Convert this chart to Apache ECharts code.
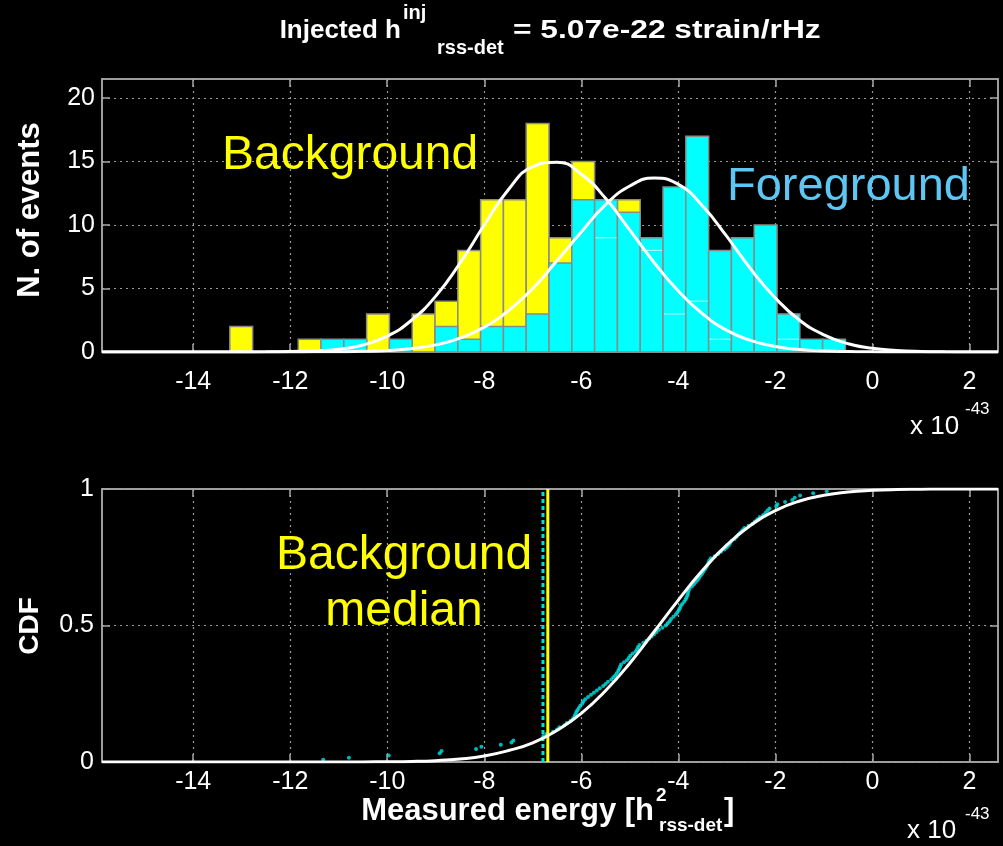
<!DOCTYPE html>
<html lang="en">
<head>
    <meta charset="UTF-8">
    <title>Measured energy histogram and CDF</title>
    <script src="https://cdn.jsdelivr.net/npm/echarts@6/dist/echarts.min.js"></script>
    <style>
        html, body { margin: 0; padding: 0; background: #000; }
        #chart { width: 1003px; height: 846px; }
    </style>
</head>
<body>
<div id="chart"></div>
<script type="text/javascript">
    // energies are in units of 1e-43 (h^2 rss-det)
    const binEdges = [-13.245, -12.775, -12.305, -11.835, -11.365, -10.895, -10.425, -9.955, -9.485,
        -9.015, -8.545, -8.075, -7.605, -7.135, -6.665, -6.195, -5.725, -5.255, -4.785, -4.315,
        -3.845, -3.375, -2.905, -2.435, -1.965, -1.495, -1.025, -0.555];
    const backgroundCounts = [2, 0, 0, 1, 0, 0, 3, 0, 3, 4, 8, 12, 12, 18, 9, 15, 9, 12, 8, 3, 4, 1, 0, 0, 1, 0, 0];
    const foregroundCounts = [0, 0, 0, 0, 1, 1, 0, 1, 0, 2, 1, 2, 2, 3, 7, 12, 12, 11, 9, 13, 17, 8, 9, 10, 3, 1, 1];

    // fitted curves
    const fitX = [-15.88, -13.5, -13, -12.5, -12, -11.5, -11, -10.5, -10, -9.5, -9, -8.5, -8, -7.5, -7, -6.5,
        -6, -5.5, -5, -4.5, -4, -3.5, -3, -2.5, -2, -1.5, -1, -0.5, 0, 0.5, 1, 1.5, 2, 2.59];
    const backgroundFit = [0, 0, 0, 0.01, 0.04, 0.08, 0.22, 0.55, 1.25, 2.5, 4.4, 7.0, 10.0, 12.8, 14.6, 14.95,
        14.0, 12.1, 9.6, 7.05, 4.8, 3.0, 1.7, 0.9, 0.44, 0.2, 0.08, 0.03, 0.01, 0, 0, 0, 0, 0];
    const foregroundFit = [0, 0, 0, 0, 0, 0.01, 0.02, 0.05, 0.12, 0.27, 0.56, 1.09, 1.96, 3.26, 5.0, 7.2,
        9.45, 11.6, 13.07, 13.7, 13.2, 11.5, 9.1, 6.5, 4.25, 2.5, 1.35, 0.65, 0.29, 0.12, 0.04, 0.01, 0, 0];
    const cdfFit = [0, 0, 0, 0, 0, 0, 0, 0.0003, 0.0008, 0.002, 0.005, 0.011, 0.022, 0.042, 0.07, 0.116,
        0.178, 0.261, 0.362, 0.477, 0.593, 0.702, 0.795, 0.868, 0.921, 0.956, 0.977, 0.989, 0.995, 0.998,
        0.999, 1, 1, 1];

    // empirical CDF of the foreground events
    const cdfPointsX = [-11.32, -10.79, -9.97, -8.92, -8.88, -8.17, -8.06, -7.66, -7.44, -7.40, -6.80, -6.78,
        -6.72, -6.58, -6.50, -6.45, -6.35, -6.30, -6.22, -6.17, -6.14, -6.12, -6.10, -6.08, -6.05, -6.02, -5.98,
        -5.96, -5.92, -5.86, -5.80, -5.74, -5.68, -5.62, -5.55, -5.50, -5.45, -5.38, -5.34, -5.30, -5.27, -5.24,
        -5.22, -5.20, -5.18, -5.12, -5.06, -5.02, -4.99, -4.94, -4.88, -4.85, -4.83, -4.80, -4.72, -4.66, -4.60,
        -4.55, -4.50, -4.45, -4.40, -4.33, -4.26, -4.22, -4.18, -4.15, -4.10, -4.05, -4.02, -3.99, -3.97, -3.95,
        -3.92, -3.88, -3.85, -3.83, -3.81, -3.80, -3.79, -3.77, -3.72, -3.68, -3.64, -3.60, -3.57, -3.54, -3.51,
        -3.48, -3.45, -3.42, -3.40, -3.38, -3.36, -3.33, -3.25, -3.18, -3.12, -3.05, -3.00, -2.96, -2.93, -2.90,
        -2.84, -2.80, -2.76, -2.72, -2.68, -2.64, -2.55, -2.47, -2.42, -2.37, -2.32, -2.25, -2.20, -2.16, -2.12,
        -1.98, -1.96, -1.80, -1.65, -1.60, -1.49, -1.22, -0.94];
    const cdfPointsY = [0.008, 0.016, 0.024, 0.032, 0.040, 0.048, 0.056, 0.063, 0.071, 0.079, 0.087, 0.095,
        0.103, 0.111, 0.119, 0.127, 0.135, 0.143, 0.151, 0.159, 0.167, 0.175, 0.183, 0.190, 0.198, 0.206, 0.214,
        0.222, 0.230, 0.238, 0.246, 0.254, 0.262, 0.270, 0.278, 0.286, 0.294, 0.302, 0.310, 0.317, 0.325, 0.333,
        0.341, 0.349, 0.357, 0.365, 0.373, 0.381, 0.389, 0.397, 0.405, 0.413, 0.421, 0.429, 0.437, 0.444, 0.452,
        0.460, 0.468, 0.476, 0.484, 0.492, 0.500, 0.508, 0.516, 0.524, 0.532, 0.540, 0.548, 0.556, 0.563, 0.571,
        0.579, 0.587, 0.595, 0.603, 0.611, 0.619, 0.627, 0.635, 0.643, 0.651, 0.659, 0.667, 0.675, 0.683, 0.690,
        0.698, 0.706, 0.714, 0.722, 0.730, 0.738, 0.746, 0.754, 0.762, 0.770, 0.778, 0.786, 0.794, 0.802, 0.810,
        0.817, 0.825, 0.833, 0.841, 0.849, 0.857, 0.865, 0.873, 0.881, 0.889, 0.897, 0.905, 0.913, 0.921, 0.929,
        0.937, 0.944, 0.952, 0.960, 0.968, 0.976, 0.984, 0.992, 1.0];

    const backgroundMedian = -6.69;
    const foregroundMarker = -6.79;

    const xTicks = [-14, -12, -10, -8, -6, -4, -2, 0, 2];
    const countTicks = [0, 5, 10, 15, 20];
    const cdfTicks = [0, 0.5, 1];

    const xMin = -15.88, xMax = 2.59;
    const font = '"Liberation Sans", Arial, sans-serif';
    const frameColor = '#a8a8a8';
    const gridColor = '#9a9a9a';
    const tickFont = 25;

    function bars(counts) {
        return counts.map(function (c, i) { return [binEdges[i], binEdges[i + 1], c]; });
    }

    function rectItem(color) {
        return function (params, api) {
            const h = api.value(2);
            if (!h) return null;
            const p0 = api.coord([api.value(0), h]);
            const p1 = api.coord([api.value(1), 0]);
            return {
                type: 'rect',
                shape: {x: p0[0], y: p0[1], width: p1[0] - p0[0], height: p1[1] - p0[1]},
                style: {fill: color, stroke: '#8a8a8a', lineWidth: 1.5}
            };
        };
    }

    // top edges of yellow bars hidden behind taller cyan bars
    const hiddenEdges = backgroundCounts.map(function (c, i) {
        return [binEdges[i], binEdges[i + 1], (c > 0 && c < foregroundCounts[i]) ? c : 0];
    });

    function xAxis(grid, labels, margin) {
        return {
            type: 'value', gridIndex: grid, min: xMin, max: xMax, position: 'bottom',
            axisLine: {show: true, onZero: false, lineStyle: {color: frameColor, width: 1.5}},
            axisTick: {show: true, inside: true, length: 8, customValues: xTicks, lineStyle: {color: frameColor, width: 1.5}},
            axisLabel: {show: labels, customValues: xTicks, color: '#fff', fontSize: tickFont, fontFamily: font, margin: margin},
            splitLine: {show: true, lineStyle: {color: gridColor, type: [2, 4], width: 1.2}}
        };
    }

    function xMirror(grid) {
        return {
            type: 'value', gridIndex: grid, min: xMin, max: xMax, position: 'top',
            axisLine: {show: true, onZero: false, lineStyle: {color: frameColor, width: 1.5}},
            axisTick: {show: true, inside: true, length: 8, customValues: xTicks, lineStyle: {color: frameColor, width: 1.5}},
            axisLabel: {show: false}, splitLine: {show: false}
        };
    }

    function yAxis(grid, max, ticks, margin) {
        return {
            type: 'value', gridIndex: grid, min: 0, max: max, position: 'left',
            axisLine: {show: true, onZero: false, lineStyle: {color: frameColor, width: 1.5}},
            axisTick: {show: true, inside: true, length: 8, customValues: ticks, lineStyle: {color: frameColor, width: 1.5}},
            axisLabel: {customValues: ticks, color: '#fff', fontSize: tickFont, fontFamily: font, margin: margin},
            splitLine: {show: true, lineStyle: {color: gridColor, type: [2, 4], width: 1.2}}
        };
    }

    function yMirror(grid, max, ticks) {
        return {
            type: 'value', gridIndex: grid, min: 0, max: max, position: 'right',
            axisLine: {show: true, onZero: false, lineStyle: {color: frameColor, width: 1.5}},
            axisTick: {show: true, inside: true, length: 8, customValues: ticks, lineStyle: {color: frameColor, width: 1.5}},
            axisLabel: {show: false}, splitLine: {show: false}
        };
    }

    function zip(xs, ys) {
        return xs.map(function (x, i) { return [x, ys[i]]; });
    }

    function txt(x, y, text, size, color, opts) {
        opts = opts || {};
        return {
            type: 'text', x: x, y: y, rotation: opts.rotation || 0, scaleX: opts.scaleX || 1, z: 100,
            style: {
                text: text, fill: color, fontSize: size, fontFamily: font,
                fontWeight: opts.bold ? 'bold' : 'normal',
                align: opts.align || 'left', verticalAlign: 'middle'
            }
        };
    }

    const option = {
        backgroundColor: '#000',
        animation: false,
        grid: [
            {left: 102, top: 79, width: 896, height: 273, show: true, borderColor: frameColor, borderWidth: 1.5, backgroundColor: '#000'},
            {left: 102, top: 489, width: 896, height: 273, show: true, borderColor: frameColor, borderWidth: 1.5, backgroundColor: '#000'}
        ],
        xAxis: [xAxis(0, true, 18), xAxis(1, true, 8), xMirror(0), xMirror(1)],
        yAxis: [yAxis(0, 21.5, countTicks, 7), yAxis(1, 1, cdfTicks, 8), yMirror(0, 21.5, countTicks), yMirror(1, 1, cdfTicks)],
        graphic: [
            txt(401, 31, 'Injected h', 26, '#fff', {bold: true, align: 'right'}),
            txt(403, 13, 'inj', 20, '#fff', {bold: true}),
            txt(437, 48, 'rss-det', 20, '#fff', {bold: true}),
            txt(513, 31, '= 5.07e-22 strain/rHz', 26, '#fff', {bold: true, scaleX: 1.22}),
            txt(30, 210, 'N. of events', 31, '#fff', {bold: true, align: 'center', rotation: Math.PI / 2}),
            txt(30, 626, 'CDF', 28, '#fff', {bold: true, align: 'center', rotation: Math.PI / 2}),
            txt(910, 427, 'x 10', 26, '#fff'),
            txt(965, 409, '-43', 17, '#fff'),
            txt(907, 831, 'x 10', 26, '#fff'),
            txt(965, 814, '-43', 17, '#fff'),
            txt(654, 811, 'Measured energy [h', 31, '#fff', {bold: true, align: 'right'}),
            txt(656, 796, '2', 19, '#fff', {bold: true}),
            txt(659, 826, 'rss-det', 19, '#fff', {bold: true}),
            txt(724, 811, ']', 31, '#fff', {bold: true}),
            txt(222, 156, 'Background', 48, '#ffff00'),
            txt(727, 187, 'Foreground', 47, '#5ec6f2'),
            txt(404, 556, 'Background', 48, '#ffff00', {align: 'center'}),
            txt(404, 612, 'median', 48, '#ffff00', {align: 'center'})
        ],
        series: [
            {
                type: 'custom', name: 'background', xAxisIndex: 0, yAxisIndex: 0, z: 2,
                renderItem: rectItem('#ffff00'), encode: {x: [0, 1], y: 2}, data: bars(backgroundCounts)
            },
            {
                type: 'custom', name: 'foreground', xAxisIndex: 0, yAxisIndex: 0, z: 3,
                renderItem: rectItem('#00ffff'), encode: {x: [0, 1], y: 2}, data: bars(foregroundCounts)
            },
            {
                type: 'custom', name: 'hidden edges', xAxisIndex: 0, yAxisIndex: 0, z: 4,
                renderItem: function (params, api) {
                    const h = api.value(2);
                    if (!h) return null;
                    const p0 = api.coord([api.value(0), h]);
                    const p1 = api.coord([api.value(1), h]);
                    return {
                        type: 'line', shape: {x1: p0[0] + 1, y1: p0[1], x2: p1[0] - 1, y2: p1[1]},
                        style: {stroke: 'rgba(225,255,255,0.75)', lineWidth: 1.2}
                    };
                },
                encode: {x: [0, 1], y: 2}, data: hiddenEdges
            },
            {
                type: 'line', xAxisIndex: 0, yAxisIndex: 0, z: 5, smooth: 0.5, showSymbol: false,
                lineStyle: {color: '#fff', width: 3}, data: zip(fitX, backgroundFit)
            },
            {
                type: 'line', xAxisIndex: 0, yAxisIndex: 0, z: 5, smooth: 0.5, showSymbol: false,
                lineStyle: {color: '#fff', width: 3}, data: zip(fitX, foregroundFit)
            },
            {
                type: 'scatter', xAxisIndex: 1, yAxisIndex: 1, z: 4, symbolSize: 4,
                itemStyle: {color: '#00e5e5'}, data: zip(cdfPointsX, cdfPointsY)
            },
            {
                type: 'line', xAxisIndex: 1, yAxisIndex: 1, z: 5, showSymbol: false,
                lineStyle: {color: '#00dede', width: 3, type: [4, 3]},
                data: [[foregroundMarker, 0], [foregroundMarker, 1]]
            },
            {
                type: 'line', xAxisIndex: 1, yAxisIndex: 1, z: 6, showSymbol: false,
                lineStyle: {color: '#ffff00', width: 3},
                data: [[backgroundMedian, 0], [backgroundMedian, 1]]
            },
            {
                type: 'line', xAxisIndex: 1, yAxisIndex: 1, z: 7, smooth: 0.5, showSymbol: false,
                lineStyle: {color: '#fff', width: 3}, data: zip(fitX, cdfFit)
            }
        ]
    };

    const myChart = echarts.init(document.getElementById('chart'));
    myChart.setOption(option);
</script>
</body>
</html>
